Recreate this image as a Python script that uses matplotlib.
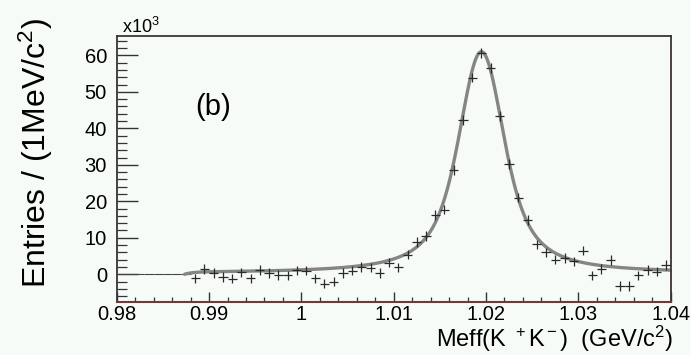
import numpy as np
import matplotlib
matplotlib.use("Agg")
import matplotlib.pyplot as plt
from matplotlib.ticker import MultipleLocator, FixedLocator, FixedFormatter

plt.rcParams['font.family'] = ['Liberation Sans', 'DejaVu Sans']
plt.rcParams['mathtext.fontset'] = 'custom'
plt.rcParams['mathtext.rm'] = 'Liberation Sans'
plt.rcParams['mathtext.it'] = 'Liberation Sans'
plt.rcParams['mathtext.bf'] = 'Liberation Sans'

# K+K- invariant mass histogram, 1 MeV bins (entries in units of 10^3)
BIN_HALF = 0.0005
empty_centers = [0.9805, 0.9815, 0.9825, 0.9835, 0.9845, 0.9855, 0.9865, 0.9875]
mass_centers = [
    0.9885, 0.9895, 0.9905, 0.9915, 0.9925, 0.9935, 0.9945, 0.9955, 0.9965, 0.9975,
    0.9985, 0.9995, 1.0005, 1.0015, 1.0025, 1.0035, 1.0045, 1.0055, 1.0065, 1.0075,
    1.0085, 1.0095, 1.0105, 1.0115, 1.0125, 1.0135, 1.0145, 1.0155, 1.0165, 1.0175,
    1.0185, 1.0195, 1.0205, 1.0215, 1.0225, 1.0235, 1.0245, 1.0255, 1.0265, 1.0275,
    1.0285, 1.0295, 1.0305, 1.0315, 1.0325, 1.0335, 1.0345, 1.0355, 1.0365, 1.0375,
    1.0385, 1.0395,
]
entries_k = [
    -1.1, 1.4, 0.4, -0.8, -1.2, 0.5, -1.1, 1.2, 0.3, -0.2,
    -0.3, 1.1, 1.0, -1.1, -2.6, -2.0, 0.4, 1.0, 2.0, 1.8,
    0.3, 3.2, 1.9, 5.4, 8.9, 10.5, 16.2, 17.7, 28.6, 42.3,
    53.9, 60.7, 56.5, 43.4, 30.2, 21.0, 14.9, 8.2, 6.0, 4.0,
    4.4, 3.5, 6.5, -0.3, 1.4, 3.9, -3.2, -3.2, -0.3, 1.2,
    0.7, 2.5,
]
errors_k = [1.3] * len(entries_k)

# Fit: Breit-Wigner convolved with Gaussian resolution + flat background,
# switched on at the K+K- threshold
FIT_MASS = 1.0195
FIT_WIDTH = 0.00426
FIT_SIGMA = 0.00134
FIT_PEAK = 61.0
FIT_BKG = 0.3
K_THRESHOLD = 2 * 0.493677
THRESH_SCALE = 0.0008

x_ticks = [0.98, 0.99, 1.00, 1.01, 1.02, 1.03, 1.04]
x_ticklabels = ['0.98', '0.99', '1', '1.01', '1.02', '1.03', '1.04']
y_ticks = [0, 10, 20, 30, 40, 50, 60]


def fit_curve(m):
    step = 0.00002
    grid = np.arange(0.90, 1.14, step)
    bw = (FIT_WIDTH / (2 * np.pi)) / ((grid - FIT_MASS) ** 2 + (FIT_WIDTH / 2) ** 2)
    kx = np.arange(-6 * FIT_SIGMA, 6 * FIT_SIGMA + step, step)
    kern = np.exp(-0.5 * (kx / FIT_SIGMA) ** 2)
    kern /= kern.sum()
    voigt = np.convolve(bw, kern, mode='same')
    voigt = voigt / voigt.max() * (FIT_PEAK - FIT_BKG)
    shape = np.interp(m, grid, voigt)
    thr = 1 - np.exp(-(m - K_THRESHOLD) / THRESH_SCALE)
    return np.clip(thr, 0, None) * (shape + FIT_BKG)


bg = '#f6fbf8'
fig = plt.figure(figsize=(6.91, 3.55), dpi=100, facecolor=bg)
ax = fig.add_axes([0.1689, 0.1493, 0.9706 - 0.1689, 0.8986 - 0.1493], facecolor=bg)

# empty bins below threshold
ax.errorbar(empty_centers, [0] * len(empty_centers), xerr=BIN_HALF, fmt='none',
            ecolor='#444444', elinewidth=0.8, capsize=0)

m = np.linspace(K_THRESHOLD, 1.04, 800)
ax.plot(m, fit_curve(m), color='#858585', lw=2.4, solid_capstyle='round', zorder=2)

ax.errorbar(mass_centers, entries_k, xerr=BIN_HALF, yerr=errors_k, fmt='none',
            ecolor='#2a2a2a', elinewidth=0.9, capsize=0, zorder=3)

ax.set_xlim(0.98, 1.04)
ax.set_ylim(-7.6, 65.3)

ax.xaxis.set_major_locator(FixedLocator(x_ticks))
ax.xaxis.set_major_formatter(FixedFormatter(x_ticklabels))
ax.xaxis.set_minor_locator(MultipleLocator(0.002))
ax.yaxis.set_major_locator(FixedLocator(y_ticks))
ax.yaxis.set_minor_locator(MultipleLocator(2))

ax.tick_params(axis='x', which='major', direction='in', length=7, width=1,
               color='#333333', labelsize=14.5, pad=2, top=False)
ax.tick_params(axis='x', which='minor', direction='in', length=3.5, width=0.9,
               color='#333333', top=False)
ax.tick_params(axis='y', which='major', direction='in', length=15, width=1,
               color='#333333', labelsize=14.5, pad=7, right=False)
ax.tick_params(axis='y', which='minor', direction='in', length=7.5, width=0.9,
               color='#333333', right=False)

for side in ['left', 'right', 'top']:
    ax.spines[side].set_color('#3c3434')
    ax.spines[side].set_linewidth(1.3)
ax.spines['bottom'].set_color('#6e3c38')
ax.spines['bottom'].set_linewidth(1.5)

fig.text(0.052, 0.570, r'Entries / (1MeV/c$^2$)', fontsize=23, rotation=90,
         ha='center', va='center')
fig.text(0.9735, 0.022, r'Meff(K $^+$K$^-$)  (GeV/c$^2$)', fontsize=17,
         ha='right', va='baseline')

fig.text(0.176, 0.907, r'x10$^3$', fontsize=13, ha='left', va='baseline')
ax.text(0.9904, 45.8, '(b)', fontsize=21, ha='center', va='center')

fig.savefig('out.png', dpi=100, facecolor=bg)
